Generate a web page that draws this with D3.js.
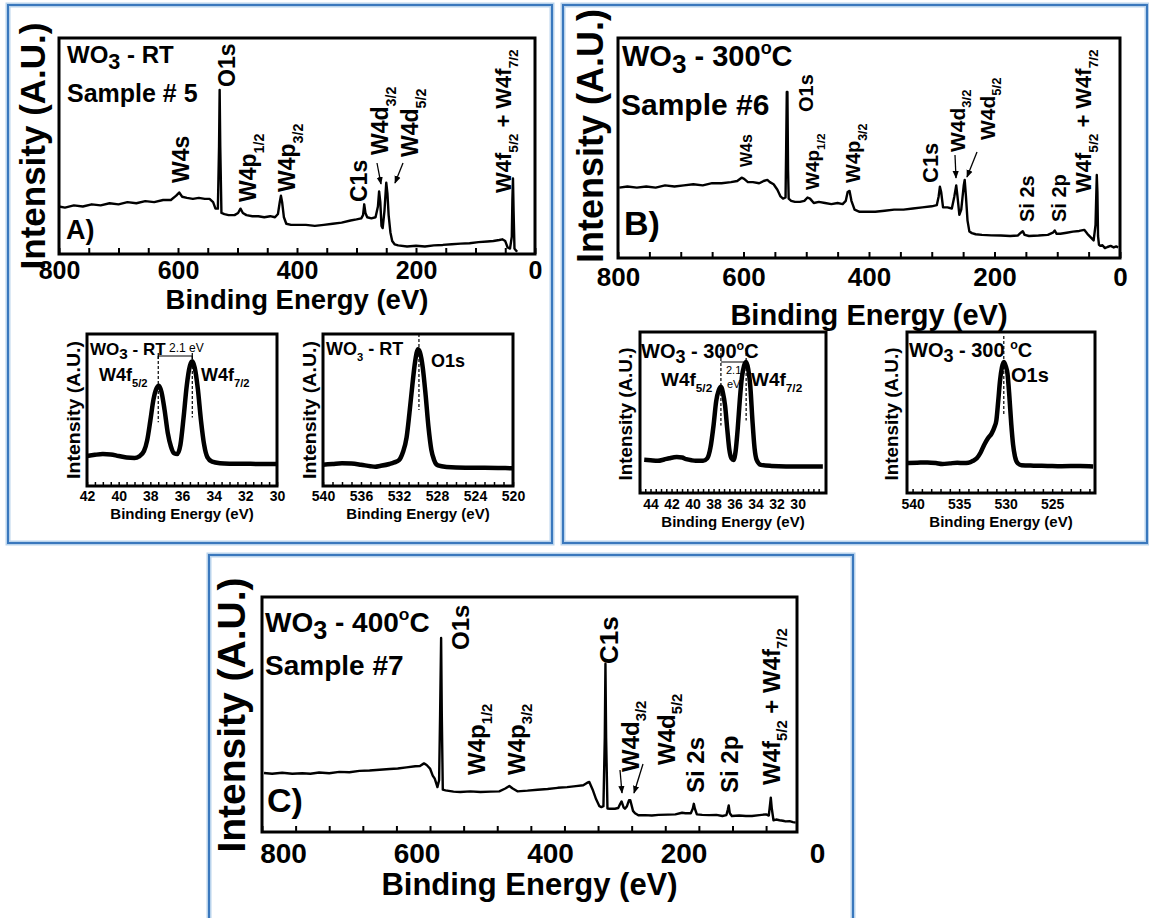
<!DOCTYPE html>
<meta charset="utf-8">
<script src="https://d3js.org/d3.v7.min.js"></script>
<style>
  body { margin: 0; background: #fff; }
  svg text { font-family: 'Liberation Sans', Arial, Helvetica, sans-serif; fill: #000; }
</style>
<div id="fig"></div>
<script>

// ---------------- data (binding energy eV, intensity a.u. 0-100) ----------------
var mainTicks = [800, 600, 400, 200, 0];

var surveyRT = [
  [800, 22], [790, 21.5], [775, 22.5], [760, 22], [745, 23], [730, 22.5], [715, 23.5], [700, 23],
  [685, 24], [670, 23.5], [655, 24.5], [640, 24], [625, 25], [612, 25], [603, 27], [598, 28.5],
  [593, 26.5], [585, 26], [575, 25.5], [565, 26], [555, 25.5], [547, 25.5], [541, 24], [537, 21],
  [533, 21], [531, 50], [530, 76], [529, 50], [527, 19], [522, 18.5], [515, 18], [505, 18],
  [499, 19], [495, 21], [491, 19], [485, 18], [475, 17.5], [465, 17.5], [455, 17], [445, 17.5],
  [437, 17], [432, 18.5], [429, 24], [427, 27], [425, 24], [422, 17], [418, 14], [410, 13.5],
  [400, 13.5], [385, 13.5], [370, 13], [355, 13.5], [340, 14], [325, 14.5], [310, 15.5], [300, 16],
  [292, 16.5], [289, 18], [287, 23], [285, 19], [282, 17], [275, 16.5], [268, 17], [264, 22],
  [262, 29], [260, 24], [258, 13], [256, 12], [253, 20], [250, 33], [248, 28], [246, 18],
  [243, 10], [240, 6], [236, 4.5], [230, 4], [215, 3.5], [200, 3.8], [185, 3.5], [170, 4],
  [155, 4.2], [140, 4.5], [125, 4.8], [110, 5], [95, 5.5], [80, 5.8], [70, 6], [60, 6.5],
  [55, 6.8], [50, 6], [46, 3], [42, 2.5], [39, 8], [38, 25], [37, 35], [36, 20],
  [34.5, 2.5], [33, 2], [30, 1]
];

var survey300 = [
  [798, 32], [785, 32.5], [770, 32], [755, 32.5], [740, 32], [725, 33], [710, 32.5], [695, 33],
  [680, 33.5], [665, 33], [650, 34], [635, 34], [620, 34.5], [610, 35], [603, 36.5], [599, 36],
  [593, 34.5], [585, 34.5], [575, 34], [568, 35], [562, 35.5], [558, 34.5], [552, 33.5], [546, 31],
  [541, 28], [537, 27], [533, 27.5], [532, 50], [531, 75.5], [530, 75.5], [529, 40], [528, 27],
  [524, 26], [518, 25.5], [510, 25.5], [503, 26], [498, 27.5], [494, 27], [488, 25], [480, 25.5],
  [470, 25], [460, 24.5], [450, 25], [442, 24.5], [437, 26], [434, 30], [431, 30.5], [428, 26],
  [423, 22], [415, 21], [405, 21], [390, 21], [375, 21.5], [360, 22], [345, 22], [330, 22.5],
  [315, 23], [300, 23.5], [292, 24], [289, 28], [287, 32.4], [285, 30], [282, 23], [275, 23],
  [268, 22.5], [264, 28], [261, 33], [259, 28], [256, 19.6], [253, 22], [249, 33], [247.5, 35.5],
  [245.5, 28], [243, 17], [240, 12], [236, 11.3], [230, 10.8], [220, 10.5], [205, 10.3], [190, 10.2],
  [175, 10], [163, 10.2], [158, 11.5], [155, 12.2], [152, 10.5], [145, 10], [130, 10.2], [115, 10.5],
  [107, 11.5], [104, 12.5], [101, 11], [95, 11], [85, 11.5], [75, 12], [65, 12.3], [57, 12.8],
  [52, 11], [47, 9.5], [42, 8], [39, 15], [37, 37.7], [36, 30], [35, 10], [33.5, 6],
  [31, 5.5], [28, 5.8], [24, 4.5], [20, 5], [15, 5.5], [10, 4.8], [6, 5.3], [3, 4.8]
];

var survey400 = [
  [797, 25.1], [785, 24.8], [770, 25.2], [755, 24.8], [740, 25], [728, 24.8], [715, 25.3], [700, 25],
  [685, 25.6], [670, 25.4], [655, 26], [640, 26.2], [625, 26.5], [610, 26.8], [598, 27], [585, 27.5],
  [572, 28], [565, 28.1], [559, 29.2], [555, 28.5], [550, 27], [546, 24], [543, 22.7], [539, 19.1],
  [536.5, 22], [535, 50], [533.5, 82.6], [532.5, 50], [531, 18], [527, 17.7], [515, 17.2], [505, 17],
  [490, 17.3], [475, 17], [460, 17.2], [447, 17.3], [438, 18.5], [432, 19.6], [427, 18.5], [420, 17.3],
  [405, 17.6], [390, 18], [375, 18.3], [360, 18.8], [346, 19.1], [333, 19.5], [322, 19.9], [316, 21],
  [313, 21.3], [308, 18], [303, 14], [298, 11], [295, 10.6], [292, 11], [290, 40], [289, 71.6],
  [288, 40], [286, 10], [282, 9.9], [275, 9.9], [270, 10.2], [267, 12], [265, 13], [262, 10.5],
  [260, 9.9], [257, 11], [254, 13.5], [252, 13.5], [248, 9], [245, 8], [240, 7.1], [230, 7.2],
  [220, 7], [210, 7.3], [196, 7.4], [185, 7.5], [175, 8.2], [170, 8], [162, 8], [159, 10],
  [157.5, 12], [156, 10], [153, 7.5], [145, 7.3], [135, 7.2], [124, 7.3], [115, 6.8], [109, 7.2],
  [107, 9.5], [105.6, 11.3], [104, 8], [101, 6.8], [90, 7], [80, 6.8], [71, 6.8], [60, 7.2],
  [50, 7.5], [46, 7], [44, 12], [43, 14.6], [41.5, 10], [39, 5], [35, 5.3], [30, 5],
  [25, 4.8], [21, 4.5], [15, 4.6], [10, 4.2], [6, 4]
];

var w4fRT = [
  [42, 19.7], [41.5, 20.5], [41, 21], [40.5, 20.8], [40, 19.7], [39.5, 18.8], [39, 18.5], [38.7, 19.5],
  [38.4, 23], [38.2, 30], [38, 43], [37.8, 57], [37.6, 64.5], [37.45, 66], [37.3, 62], [37.1, 50],
  [36.9, 35], [36.7, 26], [36.5, 21.5], [36.3, 21], [36.1, 27], [35.9, 45], [35.7, 66], [35.5, 79],
  [35.35, 82], [35.2, 78], [35, 64], [34.8, 43], [34.6, 27], [34.4, 19], [34.1, 16], [33.6, 15],
  [33, 14.7], [32, 14.6], [31, 14.5], [30, 14.5]
];
var w4fTicksRT = [42, 40, 38, 36, 34, 32, 30];

var o1sRT = [
  [540, 14], [539, 14.5], [538, 15], [537, 14.8], [536, 14], [535, 13], [534.5, 12.7], [534, 13.2],
  [533, 14.5], [532.5, 15.5], [532, 17], [531.6, 22], [531.2, 32], [530.9, 48], [530.6, 66], [530.3, 82],
  [530, 90], [529.8, 88], [529.5, 78], [529.2, 60], [528.9, 39], [528.6, 24], [528.3, 17], [527.9, 13.5],
  [527, 12.5], [525, 12], [523, 12], [521, 11.8], [520, 11.6]
];
var o1sTicksRT = [540, 536, 532, 528, 524, 520];

var w4f300 = [
  [44.6, 20.6], [44, 20.3], [43.3, 20], [42.7, 20.8], [42.2, 21.6], [41.5, 22.3], [41, 22], [40.6, 21],
  [40.1, 20.3], [39.7, 20], [39, 20], [38.6, 21.5], [38.3, 28], [38, 42], [37.75, 57], [37.5, 64],
  [37.3, 66], [37.1, 62], [36.9, 54], [36.7, 40], [36.5, 27], [36.3, 21.5], [36.1, 20.5], [35.9, 26],
  [35.7, 40], [35.5, 58], [35.3, 72], [35.1, 79], [34.9, 81.4], [34.7, 77], [34.5, 66], [34.3, 45],
  [34.1, 28], [33.9, 20.6], [33.5, 17.5], [32.5, 16.8], [31.1, 16.5], [29.5, 16.5], [27.6, 16.5]
];
var w4fTicks300 = [44, 42, 40, 38, 36, 34, 32, 30];

var o1s300 = [
  [540.5, 18.6], [539.5, 18.8], [538.4, 19], [537.5, 18.6], [536.8, 18], [536, 18.4], [535.2, 18.8], [534.5, 18.6],
  [534, 18.8], [533.5, 20], [533.1, 21.6], [532.7, 25], [532.3, 30], [531.9, 34], [531.5, 37], [531.2, 41],
  [531, 45], [530.8, 57], [530.6, 70], [530.4, 78], [530.2, 81.4], [530, 79], [529.8, 74], [529.6, 60],
  [529.4, 43], [529.2, 30], [529, 22.7], [528.7, 18.5], [528.3, 17.3], [527, 17], [525.5, 16.8], [524, 16.6],
  [522, 16.8], [520.6, 16.5]
];
var o1sTicks300 = [540, 535, 530, 525];

// ---------------- drawing ----------------
var svg = d3.select("#fig").append("svg")
  .attr("width", 1149)
  .attr("height", 918);

svg.append("defs").append("marker")
  .attr("id", "arrow")
  .attr("viewBox", "0 0 10 10")
  .attr("refX", 9).attr("refY", 5)
  .attr("markerWidth", 6).attr("markerHeight", 6)
  .attr("orient", "auto")
  .append("path").attr("d", "M0,1 L10,5 L0,9 z").attr("fill", "#000");

// blue panel borders
[[8, 5, 544, 538], [563, 5, 584, 538], [209, 555, 644, 400]].forEach(function(b) {
  svg.append("rect")
    .attr("x", b[0]).attr("y", b[1]).attr("width", b[2]).attr("height", b[3])
    .attr("fill", "none").attr("stroke", "#b9d3ec").attr("stroke-width", 5);
  svg.append("rect")
    .attr("x", b[0]).attr("y", b[1]).attr("width", b[2]).attr("height", b[3])
    .attr("fill", "none").attr("stroke", "#3a78bd").attr("stroke-width", 2);
});

// text with sub / superscripts: parts = [[text, mode]]
function rich(t, parts, size) {
  var shift = 0;
  parts.forEach(function(p) {
    var mode = p[1] || "";
    var target = 0, fs = null;
    if (mode == "sub") { target = size * 0.32; fs = size * 0.62; }
    if (mode == "low") { target = size * 0.25; fs = size * 0.9; }
    if (mode == "sup") { target = -size * 0.42; fs = size * 0.62; }
    var ts = t.append("tspan").text(p[0]).attr("dy", target - shift);
    if (fs) ts.attr("font-size", fs);
    shift = target;
  });
  return t;
}

function hText(g, x, y, parts, size, weight, anchor) {
  var t = g.append("text")
    .attr("x", x).attr("y", y)
    .attr("font-size", size)
    .attr("font-weight", weight || "bold")
    .attr("text-anchor", anchor || "start");
  return rich(t, parts, size);
}

// vertical label read bottom-to-top; cx = glyph centre, bottom = start
function vText(g, cx, bottom, parts, size) {
  var t = g.append("text")
    .attr("transform", "translate(" + (cx + 0.36 * size) + "," + bottom + ") rotate(-90)")
    .attr("font-size", size)
    .attr("font-weight", "bold");
  return rich(t, parts, size);
}

function yTitle(g, cx, cy, size, len) {
  var t = g.append("text")
    .attr("transform", "translate(" + cx + "," + cy + ") rotate(-90)")
    .attr("text-anchor", "middle")
    .attr("dy", "0.35em")
    .attr("font-size", size)
    .attr("font-weight", "bold")
    .text("Intensity (A.U.)");
  if (len) t.attr("textLength", len).attr("lengthAdjust", "spacingAndGlyphs");
}

function panel(p) {
  var g = svg.append("g");
  var x = d3.scaleLinear().domain(p.domain).range([p.x0, p.x1]);
  var y = d3.scaleLinear().domain([0, 100]).range([p.y1, p.y0]);

  // minor inward ticks
  g.append("g")
    .attr("transform", "translate(0," + p.y1 + ")")
    .call(d3.axisBottom(x).tickValues(p.minor).tickSize(-p.tickLen).tickFormat(""))
    .call(function(a) { a.select(".domain").remove(); })
    .selectAll("line").attr("stroke", "#000").attr("stroke-width", p.tickW);

  // labelled ticks
  var lx = p.labelDomain ? d3.scaleLinear().domain(p.labelDomain).range(p.labelRange) : x;
  g.append("g")
    .attr("transform", "translate(0," + p.y1 + ")")
    .call(d3.axisBottom(lx).tickValues(p.ticks).tickSize(0).tickPadding(p.pad))
    .call(function(a) { a.select(".domain").remove(); })
    .selectAll("text")
      .attr("font-size", p.tickFont)
      .attr("font-weight", "bold")
      .attr("font-family", "'Liberation Sans', Arial, sans-serif")
      .attr("fill", "#000");

  // spectrum
  g.append("path")
    .datum(p.data)
    .attr("fill", "none")
    .attr("stroke", "#000")
    .attr("stroke-width", p.lineW)
    .attr("stroke-linejoin", "round")
    .attr("d", d3.line()
      .x(function(d) { return x(d[0]); })
      .y(function(d) { return y(d[1]); })
      .curve(p.curve || d3.curveLinear));

  // frame
  g.append("rect")
    .attr("x", p.x0).attr("y", p.y0)
    .attr("width", p.x1 - p.x0).attr("height", p.y1 - p.y0)
    .attr("fill", "none").attr("stroke", "#000").attr("stroke-width", p.frameW);

  // x title
  g.append("text")
    .attr("x", (p.x0 + p.x1) / 2).attr("y", p.titleY)
    .attr("text-anchor", "middle")
    .attr("font-size", p.titleFont)
    .attr("font-weight", "bold")
    .text("Binding Energy (eV)");

  return { g: g, x: x, y: y };
}

function dashed(g, x, y1, y2) {
  g.append("line")
    .attr("x1", x).attr("x2", x).attr("y1", y1).attr("y2", y2)
    .attr("stroke", "#000").attr("stroke-width", 1.2).attr("stroke-dasharray", "3,2");
}

function arrow(g, x1, y1, x2, y2) {
  g.append("line")
    .attr("x1", x1).attr("y1", y1).attr("x2", x2).attr("y2", y2)
    .attr("stroke", "#000").attr("stroke-width", 1.3)
    .attr("marker-end", "url(#arrow)");
}

// ================= A) WO3 - RT =================
var A = panel({
  domain: [800, 0], x0: 59, x1: 535, y0: 38, y1: 254,
  data: surveyRT, ticks: mainTicks, minor: d3.range(0, 801, 50),
  tickLen: 6, tickW: 2, pad: 7, tickFont: 25, lineW: 2.4, frameW: 3,
  titleY: 309, titleFont: 27.5
});
yTitle(A.g, 33, 146, 35);
hText(A.g, 67, 63, [["WO"], ["3", "low"], [" - RT"]], 24);
hText(A.g, 67, 102, [["Sample # 5"]], 25);
hText(A.g, 66, 239, [["A)"]], 27);
vText(A.g, 181, 183, [["W4s"]], 23);
vText(A.g, 227, 87, [["O1s"]], 23);
vText(A.g, 248, 202, [["W4p"], ["1/2", "sub"]], 23);
vText(A.g, 287, 192, [["W4p"], ["3/2", "sub"]], 23);
vText(A.g, 359, 202, [["C1s"]], 23);
vText(A.g, 380, 155, [["W4d"], ["3/2", "sub"]], 23);
vText(A.g, 410, 157, [["W4d"], ["5/2", "sub"]], 23);
vText(A.g, 503, 193, [["W4f"], ["5/2", "sub"], [" + W4f"], ["7/2", "sub"]], 22);
arrow(A.g, 377, 163, 381, 184);
arrow(A.g, 403, 163, 395, 183);

// A inset: W4f
var A1 = panel({
  domain: [42, 30], x0: 87, x1: 277, y0: 334, y1: 486,
  data: w4fRT, ticks: w4fTicksRT, minor: d3.range(30, 42.01, 0.5),
  tickLen: 4, tickW: 1.5, pad: 5, tickFont: 14, lineW: 4.5, frameW: 3,
  titleY: 519, titleFont: 15, curve: d3.curveMonotoneX
});
yTitle(A1.g, 74, 410, 18, 138);
hText(A1.g, 90, 355, [["WO"], ["3", "low"], [" - RT"]], 17);
hText(A1.g, 169, 352, [["2.1 eV"]], 12, "normal");
A1.g.append("path")
  .attr("d", "M" + A1.x(37.5) + ",353 V359 M" + A1.x(37.5) + ",356 H" + A1.x(35.35) + " M" + A1.x(35.35) + ",353 V359")
  .attr("stroke", "#000").attr("stroke-width", 1.2).attr("fill", "none");
dashed(A1.g, A1.x(37.5), 356, A1.y(42));
dashed(A1.g, A1.x(35.35), 356, A1.y(45));
hText(A1.g, 99, 381, [["W4f"], ["5/2", "sub"]], 18);
hText(A1.g, 201, 381, [["W4f"], ["7/2", "sub"]], 18);

// A inset: O1s
var A2 = panel({
  domain: [540, 520], x0: 323, x1: 513, y0: 334, y1: 486,
  data: o1sRT, ticks: o1sTicksRT, minor: d3.range(520, 540.01, 1),
  tickLen: 4, tickW: 1.5, pad: 5, tickFont: 14, lineW: 4.5, frameW: 3,
  titleY: 519, titleFont: 15, curve: d3.curveMonotoneX
});
yTitle(A2.g, 310, 410, 18, 138);
hText(A2.g, 326, 355, [["WO"], ["3", "sub"], [" - RT"]], 18);
hText(A2.g, 431, 367, [["O1s"]], 18);
dashed(A2.g, A2.x(529.9), 334, A2.y(50));

// ================= B) WO3 - 300 C =================
var B = panel({
  domain: [800, 0], x0: 618, x1: 1120, y0: 38, y1: 258,
  data: survey300, ticks: mainTicks, minor: d3.range(0, 801, 50),
  tickLen: 6, tickW: 2, pad: 10, tickFont: 26, lineW: 2.4, frameW: 3,
  titleY: 325, titleFont: 29
});
yTitle(B.g, 590, 136, 36);
hText(B.g, 622, 66, [["WO"], ["3", "low"], [" - 300"], ["o", "sup"], ["C"]], 29);
hText(B.g, 621, 115, [["Sample #6"]], 30);
hText(B.g, 624, 235, [["B)"]], 34);
vText(B.g, 746, 167, [["W4s"]], 16);
vText(B.g, 806, 112, [["O1s"]], 20);
vText(B.g, 812, 190, [["W4p"], ["1/2", "sub"]], 19);
vText(B.g, 853, 183, [["W4p"], ["3/2", "sub"]], 20);
vText(B.g, 930, 183, [["C1s"]], 22);
vText(B.g, 957, 152, [["W4d"], ["3/2", "sub"]], 21);
vText(B.g, 987, 140, [["W4d"], ["5/2", "sub"]], 21);
vText(B.g, 1027, 222, [["Si 2s"]], 20);
vText(B.g, 1059, 222, [["Si 2p"]], 20);
vText(B.g, 1083, 193, [["W4f"], ["5/2", "sub"], [" + W4f"], ["7/2", "sub"]], 22);
arrow(B.g, 955, 155, 956, 178);
arrow(B.g, 977, 152, 967, 177);

// B inset: W4f
var B1 = panel({
  domain: [45, 27.3], x0: 640, x1: 826, y0: 332, y1: 493,
  data: w4f300, ticks: w4fTicks300, minor: d3.range(28, 45.01, 0.5),
  tickLen: 4, tickW: 1.5, pad: 6, tickFont: 14, lineW: 4.5, frameW: 3,
  titleY: 527, titleFont: 15, curve: d3.curveMonotoneX
});
yTitle(B1.g, 626, 414, 18, 133);
hText(B1.g, 641, 358, [["WO"], ["3", "low"], [" - 300"], ["o", "sup"], ["C"]], 20);
B1.g.append("line")
  .attr("x1", B1.x(37.3)).attr("x2", B1.x(34.9)).attr("y1", 362).attr("y2", 362)
  .attr("stroke", "#000").attr("stroke-width", 1);
dashed(B1.g, B1.x(37.3), 348, B1.y(42));
dashed(B1.g, B1.x(34.9), 348, B1.y(45));
hText(B1.g, 726, 374, [["2.1"]], 11, "normal");
hText(B1.g, 727, 388, [["eV"]], 11, "normal");
hText(B1.g, 661, 386, [["W4f"], ["5/2", "sub"]], 19);
hText(B1.g, 751, 386, [["W4f"], ["7/2", "sub"]], 19);

// B inset: O1s
var B2 = panel({
  domain: [540.6, 520.4], x0: 907, x1: 1095, y0: 332, y1: 493,
  data: o1s300, ticks: o1sTicks300, minor: d3.range(521, 540.01, 1),
  tickLen: 4, tickW: 1.5, pad: 6, tickFont: 14, lineW: 4.5, frameW: 3,
  titleY: 527, titleFont: 15, curve: d3.curveMonotoneX
});
yTitle(B2.g, 892, 414, 18, 133);
hText(B2.g, 909, 357, [["WO"], ["3", "low"], [" - 300 "], ["o", "sup"], ["C"]], 20);
hText(B2.g, 1011, 382, [["O1s"]], 20);
dashed(B2.g, B2.x(530.2), 336, B2.y(48));

// ================= C) WO3 - 400 C =================
var C = panel({
  domain: [800, 4], x0: 262, x1: 797, y0: 597, y1: 832,
  labelDomain: [800, 0], labelRange: [283, 817],
  data: survey400, ticks: mainTicks, minor: d3.range(50, 801, 50),
  tickLen: 6, tickW: 2, pad: 11, tickFont: 28, lineW: 2.4, frameW: 3,
  titleY: 895, titleFont: 31
});
yTitle(C.g, 231, 715, 39);
hText(C.g, 265, 632, [["WO"], ["3", "low"], [" - 400"], ["o", "sup"], ["C"]], 28);
hText(C.g, 265, 675, [["Sample #7"]], 28);
hText(C.g, 267, 812, [["C)"]], 34);
vText(C.g, 460, 650, [["O1s"]], 24);
vText(C.g, 609, 664, [["C1s"]], 26);
vText(C.g, 476, 775, [["W4p"], ["1/2", "sub"]], 24);
vText(C.g, 516, 775, [["W4p"], ["3/2", "sub"]], 24);
vText(C.g, 630, 772, [["W4d"], ["3/2", "sub"]], 24);
vText(C.g, 666, 765, [["W4d"], ["5/2", "sub"]], 24);
vText(C.g, 695, 793, [["Si 2s"]], 24);
vText(C.g, 729, 793, [["Si 2p"]], 24);
vText(C.g, 771, 785, [["W4f"], ["5/2", "sub"], [" + W4f"], ["7/2", "sub"]], 24);
arrow(C.g, 620, 770, 622, 793);
arrow(C.g, 643, 764, 634, 793);

</script>
